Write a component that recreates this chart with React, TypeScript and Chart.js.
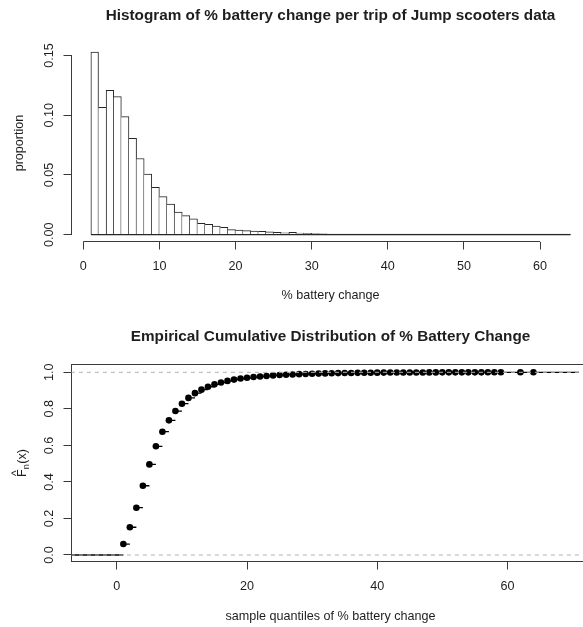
import React, { useEffect, useRef } from "react";
import { Chart, registerables } from "chart.js";
Chart.register(...registerables);

// ---------------- Histogram data ----------------
const BIN_EDGES = [
  1, 2, 3, 4, 5, 6, 7, 8, 9, 10, 11, 12, 13, 14, 15, 16, 17, 18, 19, 20, 21, 22,
  23, 24, 25, 26, 27, 28, 29, 30, 31, 32, 33, 34, 35, 36, 37, 38, 39, 40, 41, 42,
  43, 44, 45, 46, 47, 48, 49, 50, 51, 52, 53, 54, 55, 56, 57, 58, 59, 60, 61, 62,
  63, 64,
];
const HIST_PROPORTION = [
  0.1528, 0.1066, 0.1209, 0.1155, 0.0988, 0.0807, 0.0638, 0.0507, 0.0396, 0.0318,
  0.0256, 0.019, 0.016, 0.0132, 0.0095, 0.0086, 0.0072, 0.0061, 0.0043, 0.0039,
  0.0034, 0.0031, 0.0028, 0.0023, 0.0019, 0.0016, 0.0019, 0.0013, 0.0011, 0.0009,
  0.0007, 0.0006, 0.0006, 0.0005, 0.0005, 0.0004, 0.0004, 0.0004, 0.0004, 0.0003,
  0.0003, 0.0003, 0.0004, 0.0002, 0.0002, 0.0002, 0.0002, 0.0002, 0.0002, 0.0001,
  0.0001, 0.0001, 0.0001, 0.0001, 0.0001, 0.0001, 0.0001, 0.0001, 0.0001, 0.0001,
  0.0001, 0.0001, 0.0001,
];
const HIST_X_TICKS = [0, 10, 20, 30, 40, 50, 60];
const HIST_Y_TICKS = [0, 0.05, 0.1, 0.15];
const HIST_Y_LABELS = ["0.00", "0.05", "0.10", "0.15"];
const HIST_TITLE = "Histogram of % battery change per trip of Jump scooters data";
const HIST_X_TITLE = "% battery change";
const HIST_Y_TITLE = "proportion";

// ---------------- ECDF data ----------------
const ECDF_X = [
  1, 2, 3, 4, 5, 6, 7, 8, 9, 10, 11, 12, 13, 14, 15, 16, 17, 18, 19, 20, 21, 22,
  23, 24, 25, 26, 27, 28, 29, 30, 31, 32, 33, 34, 35, 36, 37, 38, 39, 40, 41, 42,
  43, 44, 45, 46, 47, 48, 49, 50, 51, 52, 53, 54, 55, 56, 57, 58, 59, 62, 64,
];
const ECDF_F = [
  0.06, 0.152, 0.259, 0.379, 0.496, 0.595, 0.675, 0.737, 0.788, 0.828, 0.86,
  0.886, 0.905, 0.921, 0.934, 0.944, 0.953, 0.96, 0.966, 0.97, 0.974, 0.977,
  0.98, 0.983, 0.985, 0.987, 0.988, 0.99, 0.991, 0.992, 0.993, 0.994, 0.995,
  0.9955, 0.996, 0.9965, 0.997, 0.9973, 0.9977, 0.998, 0.9983, 0.9986, 0.9988,
  0.999, 0.9991, 0.9992, 0.9993, 0.9994, 0.9995, 0.9996, 0.9996, 0.9997, 0.9997,
  0.9998, 0.9998, 0.9998, 0.9999, 0.9999, 0.9999, 0.99995, 1.0,
];
const ECDF_REF_LEVELS = [0, 1];
const ECDF_X_TICKS = [0, 20, 40, 60];
const ECDF_Y_TICKS = [0, 0.2, 0.4, 0.6, 0.8, 1];
const ECDF_Y_LABELS = ["0.0", "0.2", "0.4", "0.6", "0.8", "1.0"];
const ECDF_TITLE = "Empirical Cumulative Distribution of % Battery Change";
const ECDF_X_TITLE = "sample quantiles of % battery change";

// ---------------- styling / layout ----------------
const W = 583;
const H1 = 315;
const H2 = 312;
const FONT = '"Liberation Sans", Arial, Helvetica, sans-serif';
const INK = "#1e1e1e";
const AXIS = "#3a3a3a";
const BAR_LINE = "#262626";
const AXIS_FONT = 12.6;
const TITLE_FONT = 15.3;
const TITLE_CX = 330.5;

const TOP_AREA = { left: 71.5, top: 44.5, bottom: 241.5 };
const TOP_X_RANGE = [-1.546, 65.64];
const TOP_Y_RANGE = [-0.00569, 0.15916];

const BOT_AREA = { left: 71.5, top: 49.5, bottom: 246.5 };
const BOT_X_RANGE = [-6.966, 71.0];
const BOT_Y_RANGE = [-0.0356, 1.0427];

function drawText(
  ctx: CanvasRenderingContext2D,
  str: string,
  x: number,
  y: number,
  size: number,
  bold = false,
  rotate = false,
  align: CanvasTextAlign = "center"
) {
  ctx.save();
  ctx.translate(x, y);
  if (rotate) ctx.rotate(-Math.PI / 2);
  ctx.font = `${bold ? "bold " : ""}${size}px ${FONT}`;
  ctx.fillStyle = INK;
  ctx.textAlign = align;
  ctx.textBaseline = "alphabetic";
  ctx.fillText(str, 0, 0);
  ctx.restore();
}

function line(ctx: CanvasRenderingContext2D, x1: number, y1: number, x2: number, y2: number) {
  ctx.save();
  ctx.strokeStyle = AXIS;
  ctx.lineWidth = 1;
  ctx.beginPath();
  ctx.moveTo(x1, y1);
  ctx.lineTo(x2, y2);
  ctx.stroke();
  ctx.restore();
}

const al = (v: number) => Math.floor(v) + 0.5;

function fixedTicks(list: number[]) {
  return (axis: any) => {
    axis.ticks = list.map((v) => ({ value: v }));
  };
}

function tickGrid() {
  return {
    display: true,
    drawOnChartArea: false,
    drawTicks: true,
    tickLength: 8,
    color: AXIS,
    lineWidth: 1,
    offset: false,
  };
}

const histDecor = {
  id: "histDecor",
  afterDraw(chart: any) {
    const ctx = chart.ctx as CanvasRenderingContext2D;
    const xs = chart.scales.x;
    const ys = chart.scales.y;
    const { left, top, bottom } = chart.chartArea;
    // axis lines (first to last tick, like R)
    line(ctx, xs.getPixelForValue(HIST_X_TICKS[0]), al(bottom), xs.getPixelForValue(HIST_X_TICKS[HIST_X_TICKS.length - 1]), al(bottom));
    line(ctx, al(left), ys.getPixelForValue(HIST_Y_TICKS[0]), al(left), ys.getPixelForValue(HIST_Y_TICKS[HIST_Y_TICKS.length - 1]));
    HIST_X_TICKS.forEach((v) => drawText(ctx, String(v), xs.getPixelForValue(v), 269.5, AXIS_FONT));
    HIST_Y_TICKS.forEach((v, i) => drawText(ctx, HIST_Y_LABELS[i], 52.8, ys.getPixelForValue(v), AXIS_FONT, false, true));
    drawText(ctx, HIST_TITLE, TITLE_CX, 20, TITLE_FONT, true);
    drawText(ctx, HIST_X_TITLE, TITLE_CX, 299.3, AXIS_FONT);
    drawText(ctx, HIST_Y_TITLE, 22.8, (top + bottom) / 2, AXIS_FONT, false, true);
  },
};

const ecdfDecor = {
  id: "ecdfDecor",
  beforeDatasetsDraw(chart: any) {
    const ctx = chart.ctx as CanvasRenderingContext2D;
    const { left, top, bottom } = chart.chartArea;
    ctx.save();
    ctx.strokeStyle = AXIS;
    ctx.lineWidth = 1;
    ctx.strokeRect(al(left), al(top), W + 20, al(bottom) - al(top));
    ctx.restore();
  },
  afterDraw(chart: any) {
    const ctx = chart.ctx as CanvasRenderingContext2D;
    const xs = chart.scales.x;
    const ys = chart.scales.y;
    const { top, bottom } = chart.chartArea;
    ECDF_X_TICKS.forEach((v) => drawText(ctx, String(v), xs.getPixelForValue(v), 275.2, AXIS_FONT));
    ECDF_Y_TICKS.forEach((v, i) => drawText(ctx, ECDF_Y_LABELS[i], 52.8, ys.getPixelForValue(v), AXIS_FONT, false, true));
    drawText(ctx, ECDF_TITLE, TITLE_CX, 25.5, TITLE_FONT, true);
    drawText(ctx, ECDF_X_TITLE, TITLE_CX, 305, AXIS_FONT);
    // y label: F-hat sub n (x)
    const cy = (top + bottom) / 2;
    ctx.save();
    ctx.translate(26.3, cy);
    ctx.rotate(-Math.PI / 2);
    ctx.fillStyle = INK;
    ctx.textBaseline = "alphabetic";
    ctx.textAlign = "left";
    const big = `${AXIS_FONT}px ${FONT}`;
    const small = `${AXIS_FONT * 0.72}px ${FONT}`;
    ctx.font = big;
    const wF = ctx.measureText("F").width;
    const wP = ctx.measureText("(x)").width;
    ctx.font = small;
    const wN = ctx.measureText("n").width;
    const total = wF + wN + 0.5 + wP;
    let x0 = -total / 2;
    ctx.font = big;
    ctx.fillText("F", x0, 0);
    ctx.font = `${AXIS_FONT * 0.95}px ${FONT}`;
    ctx.textAlign = "center";
    ctx.fillText("^", x0 + wF * 0.5, -6.2);
    ctx.textAlign = "left";
    ctx.font = small;
    ctx.fillText("n", x0 + wF, 2.2);
    ctx.font = big;
    ctx.fillText("(x)", x0 + wF + wN + 0.5, 0);
    ctx.restore();
  },
};

function histConfig(): any {
  const barData = HIST_PROPORTION.map((p, i) => ({ x: (BIN_EDGES[i] + BIN_EDGES[i + 1]) / 2, y: p }));
  const n = HIST_PROPORTION.length;
  return {
    type: "bar",
    data: {
      datasets: [
        {
          type: "line",
          data: [
            { x: BIN_EDGES[0], y: 0 },
            { x: BIN_EDGES[BIN_EDGES.length - 1], y: 0 },
          ],
          borderColor: BAR_LINE,
          borderWidth: 1.3,
          pointRadius: 0,
        },
        {
          type: "bar",
          data: barData,
          backgroundColor: "#ffffff",
          borderColor: BAR_LINE,
          borderSkipped: false,
          barPercentage: 1,
          categoryPercentage: 1,
          borderWidth: (c: any) => {
            const i = c.dataIndex;
            const h = HIST_PROPORTION;
            const l = i === 0 || h[i] >= h[i - 1] ? 1 : 0;
            const r = i === n - 1 || h[i] > h[i + 1] ? 1 : 0;
            return { top: 1, left: l, right: r, bottom: 0 };
          },
        },
      ],
    },
    options: {
      responsive: false,
      animation: false,
      events: [],
      layout: { padding: { left: 0, right: 0, top: TOP_AREA.top, bottom: 0 } },
      plugins: { legend: { display: false }, tooltip: { enabled: false }, title: { display: false } },
      scales: {
        x: {
          type: "linear",
          min: TOP_X_RANGE[0],
          max: TOP_X_RANGE[1],
          offset: false,
          afterBuildTicks: fixedTicks(HIST_X_TICKS),
          afterFit: (s: any) => {
            s.height = H1 - TOP_AREA.bottom;
          },
          ticks: { display: false },
          grid: tickGrid(),
          border: { display: false },
        },
        y: {
          type: "linear",
          min: TOP_Y_RANGE[0],
          max: TOP_Y_RANGE[1],
          afterBuildTicks: fixedTicks(HIST_Y_TICKS),
          afterFit: (s: any) => {
            s.width = TOP_AREA.left;
          },
          ticks: { display: false },
          grid: tickGrid(),
          border: { display: false },
        },
      },
    },
    plugins: [histDecor],
  };
}

function ecdfConfig(): any {
  const points = ECDF_X.map((x, i) => ({ x, y: ECDF_F[i] }));
  const segs: any[] = [
    { x: BOT_X_RANGE[0] - 5, y: 0 },
    { x: ECDF_X[0], y: 0 },
    { x: ECDF_X[0], y: null },
  ];
  ECDF_X.forEach((x, i) => {
    const next = i < ECDF_X.length - 1 ? ECDF_X[i + 1] : BOT_X_RANGE[1] + 5;
    segs.push({ x, y: ECDF_F[i] });
    segs.push({ x: next, y: ECDF_F[i] });
    segs.push({ x: next, y: null });
  });
  const refs = ECDF_REF_LEVELS.map((lv) => ({
    data: [
      { x: BOT_X_RANGE[0] - 5, y: lv },
      { x: BOT_X_RANGE[1] + 5, y: lv },
    ],
    showLine: true,
    borderColor: "#b3b3b3",
    borderWidth: 1,
    borderDash: [4, 4],
    pointRadius: 0,
  }));
  return {
    type: "scatter",
    data: {
      datasets: [
        ...refs,
        {
          data: points,
          showLine: false,
          pointRadius: 3.3,
          pointBackgroundColor: "#000000",
          pointBorderWidth: 0,
          pointBorderColor: "#000000",
        },
        {
          data: segs,
          showLine: true,
          spanGaps: false,
          borderColor: "#000000",
          borderWidth: 1.3,
          pointRadius: 0,
        },
      ],
    },
    options: {
      responsive: false,
      animation: false,
      events: [],
      layout: { padding: { left: 0, right: 0, top: BOT_AREA.top, bottom: 0 } },
      plugins: { legend: { display: false }, tooltip: { enabled: false }, title: { display: false } },
      scales: {
        x: {
          type: "linear",
          min: BOT_X_RANGE[0],
          max: BOT_X_RANGE[1],
          afterBuildTicks: fixedTicks(ECDF_X_TICKS),
          afterFit: (s: any) => {
            s.height = H2 - BOT_AREA.bottom;
          },
          ticks: { display: false },
          grid: tickGrid(),
          border: { display: false },
        },
        y: {
          type: "linear",
          min: BOT_Y_RANGE[0],
          max: BOT_Y_RANGE[1],
          afterBuildTicks: fixedTicks(ECDF_Y_TICKS),
          afterFit: (s: any) => {
            s.width = BOT_AREA.left;
          },
          ticks: { display: false },
          grid: tickGrid(),
          border: { display: false },
        },
      },
    },
    plugins: [ecdfDecor],
  };
}

export default function App() {
  const topRef = useRef<HTMLCanvasElement>(null);
  const botRef = useRef<HTMLCanvasElement>(null);
  useEffect(() => {
    const c1 = new Chart(topRef.current as HTMLCanvasElement, histConfig());
    const c2 = new Chart(botRef.current as HTMLCanvasElement, ecdfConfig());
    return () => {
      c1.destroy();
      c2.destroy();
    };
  }, []);
  return (
    <div style={{ position: "absolute", left: 0, top: 0, width: W, height: H1 + H2, background: "#ffffff", overflow: "hidden" }}>
      <canvas ref={topRef} width={W} height={H1} style={{ position: "absolute", left: 0, top: 0, width: W, height: H1 }} />
      <canvas ref={botRef} width={W} height={H2} style={{ position: "absolute", left: 0, top: H1, width: W, height: H2 }} />
    </div>
  );
}
